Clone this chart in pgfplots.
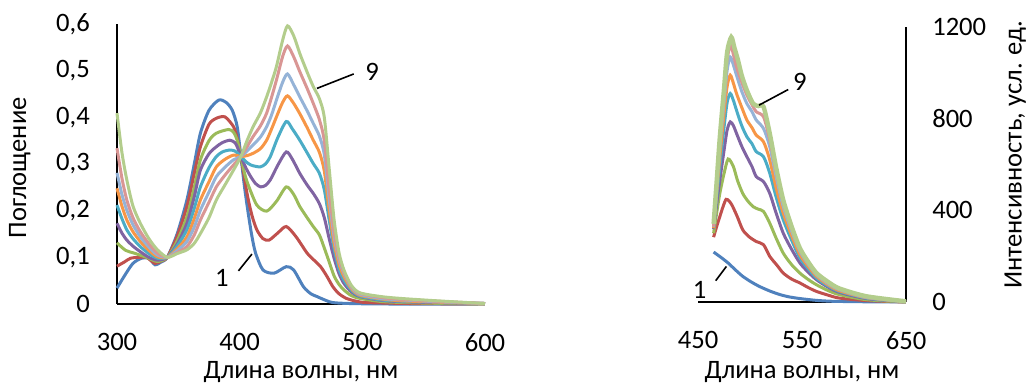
\documentclass[border=0pt]{standalone}
\usepackage{fontspec}
\setmainfont{Carlito}
\usepackage{pgfplots}
\pgfplotsset{compat=1.18}

\definecolor{c1}{HTML}{4F81BD}
\definecolor{c2}{HTML}{C0504D}
\definecolor{c3}{HTML}{9BBB59}
\definecolor{c4}{HTML}{8064A2}
\definecolor{c5}{HTML}{4BACC6}
\definecolor{c6}{HTML}{F79646}
\definecolor{c7}{HTML}{95B3D7}
\definecolor{c8}{HTML}{D99694}
\definecolor{c9}{HTML}{B3CD8C}

\pgfplotsset{
  spectrum/.style={
    scale only axis,
    major tick length=0pt,
    tick style={draw=none},
    clip=false,
    /pgf/number format/assume math mode=true,
    /pgf/number format/1000 sep={},
    xticklabel style={anchor=north, yshift=-10pt},
    every axis plot/.append style={line width=1.5pt, no markers, smooth, tension=0.45},
  },
  plainlines/.style={axis line style={-, line width=0.8pt, black}},
}

\begin{document}
\fontsize{13.3}{16}\selectfont
\begin{tikzpicture}
\useasboundingbox (0,0) rectangle (515pt,192.5pt);

% ---------- absorption spectra ----------
\begin{axis}[spectrum,
  at={(58.5pt,40.5pt)}, anchor=south west,
  width=184pt, height=140pt,
  axis x line=bottom, axis y line=left, plainlines,
  xmin=300, xmax=600, ymin=0, ymax=0.6,
  xtick={300,400,500,600},
  ytick={0,0.1,0.2,0.3,0.4,0.5,0.6},
  yticklabel style={anchor=east, xshift=-9pt,
    /pgf/number format/.cd, fixed, precision=1, use comma},
  xlabel={Длина волны, нм},
  xlabel style={at={(axis description cs:0.5,-0.243)}, anchor=center},
  ylabel={Поглощение},
  ylabel style={at={(axis description cs:-0.264,0.486)}, anchor=center},
]
\addplot[c1] coordinates {(300,0.034)(306,0.06)(313,0.087)(320,0.098)(326,0.098)(331,0.084)(336,0.09)(341,0.10)(349,0.15)(357,0.223)(363,0.30)(368,0.366)(375,0.415)(383,0.437)(389,0.432)(394,0.415)(398,0.38)(401,0.316)(404,0.25)(407,0.194)(410,0.145)(413,0.109)(419,0.073)(428,0.066)(438,0.08)(444,0.073)(452,0.037)(458,0.022)(463,0.016)(470,0.008)(476,0.003)(490,0.001)(520,0)(600,0)};
\addplot[c2] coordinates {(300,0.081)(306,0.09)(311,0.098)(318,0.10)(324,0.10)(331,0.087)(336,0.092)(341,0.10)(349,0.145)(357,0.209)(363,0.28)(368,0.337)(375,0.385)(381,0.398)(388,0.401)(395,0.38)(398,0.355)(401,0.316)(406,0.237)(410,0.19)(414,0.159)(419,0.14)(424,0.137)(431,0.152)(438,0.166)(446,0.144)(455,0.109)(461,0.093)(466,0.08)(471,0.06)(476,0.037)(481,0.022)(487,0.012)(495,0.006)(504,0.003)(540,0.001)(600,0)};
\addplot[c3] coordinates {(300,0.131)(307,0.115)(314,0.109)(324,0.10)(333,0.091)(341,0.10)(349,0.135)(357,0.187)(363,0.25)(368,0.309)(375,0.35)(381,0.366)(391,0.374)(395,0.368)(398,0.351)(401,0.316)(404,0.28)(407,0.255)(414,0.212)(422,0.199)(430,0.22)(438,0.251)(444,0.235)(449,0.209)(455,0.185)(460,0.166)(465,0.148)(469,0.12)(473,0.09)(477,0.06)(481,0.042)(485,0.03)(491,0.018)(498,0.012)(517,0.005)(550,0.002)(600,0)};
\addplot[c4] coordinates {(300,0.173)(304,0.152)(308,0.137)(313,0.124)(319,0.112)(326,0.10)(333,0.094)(341,0.10)(349,0.128)(357,0.173)(363,0.23)(368,0.287)(375,0.322)(381,0.337)(386,0.346)(392,0.351)(396,0.346)(398,0.337)(401,0.316)(405,0.292)(409,0.273)(413,0.258)(417,0.251)(421,0.254)(425,0.266)(431,0.297)(438,0.326)(443,0.31)(449,0.28)(455,0.255)(460,0.237)(465,0.215)(469,0.185)(473,0.14)(477,0.098)(481,0.065)(485,0.044)(491,0.026)(498,0.016)(515,0.008)(531,0.005)(560,0.003)(600,0.001)};
\addplot[c5] coordinates {(300,0.212)(304,0.183)(308,0.159)(313,0.14)(319,0.123)(326,0.108)(333,0.098)(341,0.10)(349,0.124)(357,0.159)(363,0.205)(368,0.251)(375,0.292)(381,0.316)(386,0.326)(392,0.33)(396,0.328)(398,0.324)(401,0.316)(405,0.305)(409,0.298)(413,0.295)(417,0.294)(421,0.3)(425,0.316)(431,0.356)(438,0.391)(443,0.375)(449,0.351)(455,0.324)(460,0.301)(465,0.28)(469,0.245)(473,0.18)(477,0.118)(481,0.075)(485,0.051)(491,0.03)(498,0.017)(515,0.009)(531,0.006)(560,0.004)(600,0.001)};
\addplot[c6] coordinates {(300,0.248)(304,0.21)(308,0.18)(313,0.155)(319,0.134)(326,0.115)(333,0.101)(341,0.10)(349,0.118)(357,0.144)(363,0.183)(368,0.223)(375,0.262)(381,0.294)(388,0.31)(395,0.319)(401,0.316)(406,0.318)(411,0.323)(417,0.333)(422,0.351)(426,0.375)(430,0.401)(435,0.432)(439,0.446)(444,0.43)(449,0.408)(455,0.378)(460,0.351)(465,0.325)(469,0.285)(473,0.2)(477,0.13)(481,0.085)(485,0.059)(491,0.033)(498,0.019)(515,0.011)(531,0.007)(560,0.004)(600,0.001)};
\addplot[c7] coordinates {(300,0.281)(304,0.235)(308,0.201)(313,0.17)(319,0.144)(326,0.122)(333,0.105)(341,0.10)(349,0.114)(357,0.134)(363,0.165)(368,0.201)(375,0.24)(381,0.273)(388,0.293)(395,0.309)(401,0.316)(406,0.328)(411,0.341)(417,0.358)(422,0.38)(426,0.405)(430,0.437)(435,0.475)(439,0.493)(444,0.47)(449,0.444)(455,0.414)(460,0.387)(465,0.36)(469,0.32)(473,0.225)(477,0.145)(481,0.095)(485,0.066)(491,0.036)(498,0.021)(515,0.012)(531,0.009)(560,0.005)(600,0.001)};
\addplot[c8] coordinates {(300,0.334)(304,0.27)(308,0.223)(313,0.185)(319,0.155)(326,0.129)(333,0.109)(341,0.10)(349,0.11)(357,0.123)(363,0.148)(368,0.18)(375,0.218)(381,0.251)(388,0.276)(395,0.298)(401,0.316)(406,0.337)(411,0.359)(417,0.382)(422,0.409)(426,0.443)(430,0.48)(435,0.53)(439,0.553)(444,0.53)(449,0.498)(455,0.462)(460,0.43)(465,0.395)(469,0.35)(473,0.245)(477,0.155)(481,0.1)(485,0.069)(491,0.038)(498,0.023)(515,0.014)(531,0.01)(560,0.006)(600,0.001)};
\addplot[c9] coordinates {(300,0.409)(304,0.325)(308,0.266)(313,0.21)(319,0.173)(326,0.14)(333,0.116)(341,0.10)(349,0.108)(357,0.116)(363,0.13)(368,0.151)(375,0.185)(381,0.223)(388,0.255)(395,0.287)(401,0.316)(406,0.35)(411,0.38)(417,0.41)(422,0.444)(426,0.475)(430,0.509)(435,0.565)(439,0.596)(444,0.575)(449,0.537)(455,0.497)(460,0.466)(465,0.44)(469,0.4)(473,0.29)(477,0.18)(481,0.11)(485,0.073)(491,0.04)(498,0.024)(515,0.016)(531,0.012)(560,0.007)(600,0.001)};
% curve numbers
\draw[line width=0.8pt] (axis cs:463,0.462) -- (axis cs:493,0.493);
\node at (axis cs:508,0.498) {9};
\draw[line width=0.8pt] (axis cs:399,0.071) -- (axis cs:410,0.107);
\node at (axis cs:385.5,0.055) {1};
\end{axis}

% ---------- fluorescence spectra ----------
\begin{axis}[spectrum,
  at={(349pt,41.5pt)}, anchor=south west,
  width=104pt, height=137.5pt,
  axis x line=bottom, axis y line=right, plainlines,
  xmin=450, xmax=650, ymin=0, ymax=1200,
  xtick={450,550,650},
  ytick={0,400,800,1200},
  yticklabel style={anchor=west, xshift=8.5pt},
  xlabel={Длина волны, нм},
  xlabel style={at={(axis description cs:0.5,-0.2545)}, anchor=center},
  ylabel={Интенсивность, усл. ед.},
  ylabel style={at={(axis description cs:1.525,0.535)}, anchor=center, inner sep=0pt},
]
\addplot[c1] coordinates {(465,218)(472,195)(479,170)(486,140)(493,112)(501,88)(509,68)(519,48)(529,32)(538,22)(548,15)(564,7)(580,3)(610,1)(650,0)};
\addplot[c2] coordinates {(465,283)(468,330)(471,373)(474,415)(477,448)(480,440)(483,420)(488,370)(493,315)(499,285)(506,264)(513,250)(519,199)(526,160)(532,126)(540,100)(548,83)(556,63)(564,46)(575,30)(586,17)(612,6)(650,0)};
\addplot[c3] coordinates {(465,300)(468,390)(471,474)(475,560)(479,624)(484,591)(488,530)(493,474)(498,440)(503,416)(508,405)(513,395)(519,344)(525,280)(532,213)(540,163)(548,126)(556,98)(564,75)(575,50)(586,32)(612,10)(650,0)};
\addplot[c4] coordinates {(465,318)(468,430)(471,532)(475,660)(478,750)(481,786)(484,770)(487,736)(492,680)(497,634)(502,590)(506,547)(513,525)(519,474)(525,390)(532,300)(540,230)(548,170)(556,130)(564,97)(575,65)(586,42)(612,15)(650,1)};
\addplot[c5] coordinates {(465,322)(468,460)(471,591)(475,760)(478,870)(481,910)(484,880)(487,837)(492,770)(497,721)(502,690)(506,656)(513,634)(519,562)(525,460)(532,358)(540,270)(548,192)(556,145)(564,104)(575,70)(586,46)(612,17)(650,1)};
\addplot[c6] coordinates {(465,322)(468,480)(471,634)(475,820)(478,940)(481,990)(484,955)(487,910)(492,850)(497,794)(502,760)(506,728)(513,699)(519,620)(525,500)(532,387)(540,290)(548,206)(556,155)(564,112)(575,75)(586,49)(612,19)(650,1)};
\addplot[c7] coordinates {(465,329)(468,500)(471,678)(475,870)(478,1010)(481,1069)(484,1035)(487,990)(492,920)(497,866)(502,830)(506,794)(513,757)(519,678)(525,550)(532,416)(540,310)(548,221)(556,165)(564,119)(575,80)(586,54)(612,20)(650,2)};
\addplot[c8] coordinates {(465,332)(468,520)(471,707)(475,905)(478,1060)(481.5,1120)(484,1080)(487,1026)(492,960)(497,903)(502,860)(506,830)(513,808)(519,707)(525,570)(532,431)(540,320)(548,228)(556,170)(564,123)(575,83)(586,57)(612,22)(650,2)};
\addplot[c9, line width=2.2pt] coordinates {(465,341)(468,530)(471,721)(475,930)(478,1090)(482,1156)(485,1110)(488.5,1055)(492,990)(497,924)(503,866)(508,855)(513,852)(519,736)(525,590)(532,445)(540,330)(548,235)(556,175)(564,126)(575,88)(586,59)(612,25)(650,3)};
% curve numbers
\draw[line width=0.8pt] (axis cs:508.7,859) -- (axis cs:536.7,927);
\node at (axis cs:548,960) {9};
\draw[line width=0.8pt] (axis cs:467,93) -- (axis cs:477.3,155);
\node at (axis cs:451.6,54) {1};
\end{axis}
\end{tikzpicture}
\end{document}
